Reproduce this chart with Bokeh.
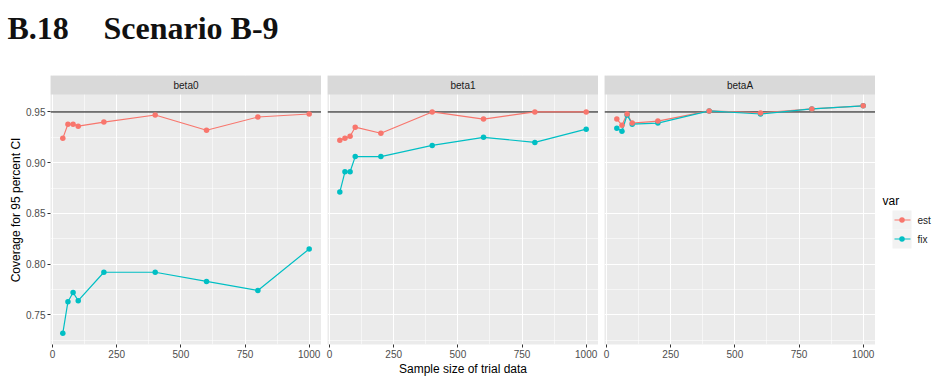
from bokeh.plotting import figure
from bokeh.layouts import row, column
from bokeh.models import (Range1d, FixedTicker, Span, BoxAnnotation, Label,
                          NumeralTickFormatter)
from bokeh.embed import file_html
from bokeh.resources import INLINE
from bokeh.core.properties import value

# ---- data -----------------------------------------------------------------
sample_size = [40, 60, 80, 100, 200, 400, 600, 800, 1000]
parameters = ["beta0", "beta1", "betaA"]
series = ["est", "fix"]
series_colors = ["#F8766D", "#00BFC4"]

beta0_est = [0.924, 0.938, 0.938, 0.936, 0.940, 0.947, 0.932, 0.945, 0.948]
beta0_fix = [0.732, 0.763, 0.772, 0.764, 0.792, 0.792, 0.783, 0.774, 0.815]
beta1_est = [0.922, 0.924, 0.926, 0.935, 0.929, 0.950, 0.943, 0.950, 0.950]
beta1_fix = [0.871, 0.891, 0.891, 0.906, 0.906, 0.917, 0.925, 0.920, 0.933]
betaA_est = [0.943, 0.937, 0.948, 0.939, 0.941, 0.951, 0.949, 0.953, 0.956]
betaA_fix = [0.934, 0.931, 0.947, 0.938, 0.939, 0.951, 0.948, 0.953, 0.956]

nominal = 0.95
x_ticks = [0, 250, 500, 750, 1000]
x_minor = [125, 375, 625, 875]
y_ticks = [0.75, 0.80, 0.85, 0.90, 0.95]
y_minor = [0.725, 0.775, 0.825, 0.875, 0.925]

panel_values = {
    "beta0": (beta0_est, beta0_fix),
    "beta1": (beta1_est, beta1_fix),
    "betaA": (betaA_est, betaA_fix),
}

heading = ["B.18", "Scenario B-9"]
x_title = "Sample size of trial data"
y_title = "Coverage for 95 percent CI"
legend_title = "var"

# ---- layout constants (pixels) --------------------------------------------
SANS = "Liberation Sans"
PAGE_W, PAGE_H = 936, 382
HEAD_H = 75
FRAME_W = 271
STRIP_H = 19
GAP = 6
LEFT = 50
BOTTOM = 38
FIG_H = PAGE_H - HEAD_H
PANEL_H = FIG_H - STRIP_H - BOTTOM

# shared scales with 5% padding like ggplot
x_lo, x_hi = min(sample_size), max(sample_size)
x_pad = 0.05 * (x_hi - x_lo)
x_start, x_end = x_lo - x_pad, x_hi + x_pad

all_y = beta0_est + beta0_fix + beta1_est + beta1_fix + betaA_est + betaA_fix + [nominal]
y_lo, y_hi = min(all_y), max(all_y)
y_pad = 0.05 * (y_hi - y_lo)
y_start, y_end = y_lo - y_pad, y_hi + y_pad
# extra room on top of the frame for the facet strip
y_top = y_end + STRIP_H * (y_end - y_start) / PANEL_H


def make_panel(name, est, fix, first, middle):
    left = LEFT if first else GAP
    p = figure(width=left + FRAME_W, height=FIG_H,
               x_range=Range1d(x_start, x_end), y_range=Range1d(y_start, y_top),
               output_backend="svg", toolbar_location=None,
               y_axis_location="left" if first else None,
               min_border_left=left, min_border_right=0,
               min_border_top=0, min_border_bottom=BOTTOM,
               background_fill_color="#EBEBEB", border_fill_color="white",
               outline_line_color=None)

    # grid
    p.xgrid.ticker = FixedTicker(ticks=x_ticks, minor_ticks=x_minor)
    p.ygrid.ticker = FixedTicker(ticks=y_ticks, minor_ticks=y_minor)
    for g in (p.xgrid, p.ygrid):
        g.grid_line_color = "white"
        g.grid_line_width = 1.1
        g.minor_grid_line_color = "white"
        g.minor_grid_line_width = 0.55

    # axes
    p.xaxis.ticker = FixedTicker(ticks=x_ticks)
    p.xaxis.formatter = NumeralTickFormatter(format="0")
    p.xaxis.axis_line_color = None
    p.xaxis.major_tick_line_color = "#333333"
    p.xaxis.major_tick_out = 3
    p.xaxis.major_tick_in = 0
    p.xaxis.minor_tick_line_color = None
    p.xaxis.major_label_text_font = SANS
    p.xaxis.major_label_text_font_size = "10px"
    p.xaxis.major_label_text_color = "#4D4D4D"
    p.xaxis.major_label_standoff = 2
    if middle:
        p.xaxis.axis_label = x_title
        p.xaxis.axis_label_text_font = SANS
        p.xaxis.axis_label_text_font_size = "12px"
        p.xaxis.axis_label_text_font_style = "normal"
        p.xaxis.axis_label_text_color = "black"
        p.xaxis.axis_label_standoff = 1

    if first:
        p.yaxis.ticker = FixedTicker(ticks=y_ticks)
        p.yaxis.formatter = NumeralTickFormatter(format="0.00")
        p.yaxis.axis_line_color = None
        p.yaxis.major_tick_line_color = "#333333"
        p.yaxis.major_tick_out = 3
        p.yaxis.major_tick_in = 0
        p.yaxis.minor_tick_line_color = None
        p.yaxis.major_label_text_font = SANS
        p.yaxis.major_label_text_font_size = "10px"
        p.yaxis.major_label_text_color = "#4D4D4D"
        p.yaxis.major_label_standoff = 2
        p.yaxis.axis_label = y_title
        p.yaxis.axis_label_text_font = SANS
        p.yaxis.axis_label_text_font_size = "12px"
        p.yaxis.axis_label_text_font_style = "normal"
        p.yaxis.axis_label_text_color = "black"
        p.yaxis.axis_label_standoff = 0

    # nominal coverage reference line
    p.add_layout(Span(location=nominal, dimension="width", line_color="black",
                      line_width=1.0, level="underlay"))

    # series
    p.line(sample_size, est, line_color=series_colors[0], line_width=1.2)
    p.line(sample_size, fix, line_color=series_colors[1], line_width=1.2)
    p.scatter(sample_size, fix, size=5.5, fill_color=series_colors[1], line_color=None)
    p.scatter(sample_size, est, size=5.5, fill_color=series_colors[0], line_color=None)

    # facet strip
    p.add_layout(BoxAnnotation(bottom=y_end, top=None, left=None, right=None,
                               fill_color="#D9D9D9", fill_alpha=1.0,
                               line_color=None))
    p.add_layout(Label(x=(x_start + x_end) / 2, y=(y_end + y_top) / 2, text=name,
                       text_align="center", text_baseline="middle",
                       text_font=SANS, text_font_size="10px",
                       text_color="#1A1A1A"))
    return p


panels = []
for i, name in enumerate(parameters):
    est, fix = panel_values[name]
    panels.append(make_panel(name, est, fix, first=(i == 0), middle=(i == 1)))

# ---- legend (its frame is aligned with the panel frames in the row) --------
LEG_X0 = LEFT + 3 * FRAME_W + 2 * GAP
frame_bottom = HEAD_H + STRIP_H + PANEL_H
leg = figure(width=PAGE_W - LEG_X0, height=FIG_H,
             x_range=Range1d(LEG_X0, PAGE_W), y_range=Range1d(frame_bottom, HEAD_H),
             output_backend="svg", toolbar_location=None,
             x_axis_location=None, y_axis_location=None,
             min_border_left=0, min_border_right=0, min_border_top=0,
             min_border_bottom=BOTTOM, outline_line_color=None,
             background_fill_color="white", border_fill_color="white")
leg.grid.visible = False

key_left, key_right = 892, 911
key_top = 210
key_h = 19
key_tops = [key_top + i * key_h for i in range(len(series))]
key_mid = [t + key_h / 2 for t in key_tops]

leg.text(x=[882], y=[200], text=[legend_title], text_font=value(SANS),
         text_font_size="12px", text_baseline="middle", text_color="black")
leg.quad(left=key_left, right=key_right, top=key_tops,
         bottom=[t + key_h for t in key_tops],
         fill_color="#F2F2F2", line_color=None)
leg.segment(x0=key_left + 2, x1=key_right - 1, y0=key_mid, y1=key_mid,
            line_color=series_colors, line_width=1.2)
leg.scatter(x=[(key_left + key_right) / 2] * len(series), y=key_mid, size=5.5,
            fill_color=series_colors, line_color=None)
leg.text(x=[917] * len(series), y=key_mid, text=series, text_font=value(SANS),
         text_font_size="10px", text_baseline="middle", text_color="#1A1A1A")

# ---- heading --------------------------------------------------------------
head = figure(width=PAGE_W, height=HEAD_H,
              x_range=Range1d(0, PAGE_W), y_range=Range1d(HEAD_H, 0),
              output_backend="svg", toolbar_location=None,
              x_axis_location=None, y_axis_location=None,
              min_border=0, outline_line_color=None,
              background_fill_color="white", border_fill_color="white")
head.grid.visible = False
head.text(x=[7, 103], y=[27, 27], text=heading,
          text_font=value("Liberation Serif"), text_font_style="bold",
          text_font_size="32px", text_baseline="alphabetic", text_color="#111111")

layout = column(head, row(*panels, leg, spacing=0), spacing=0)

open("out.html", "w").write(file_html(layout, INLINE))
